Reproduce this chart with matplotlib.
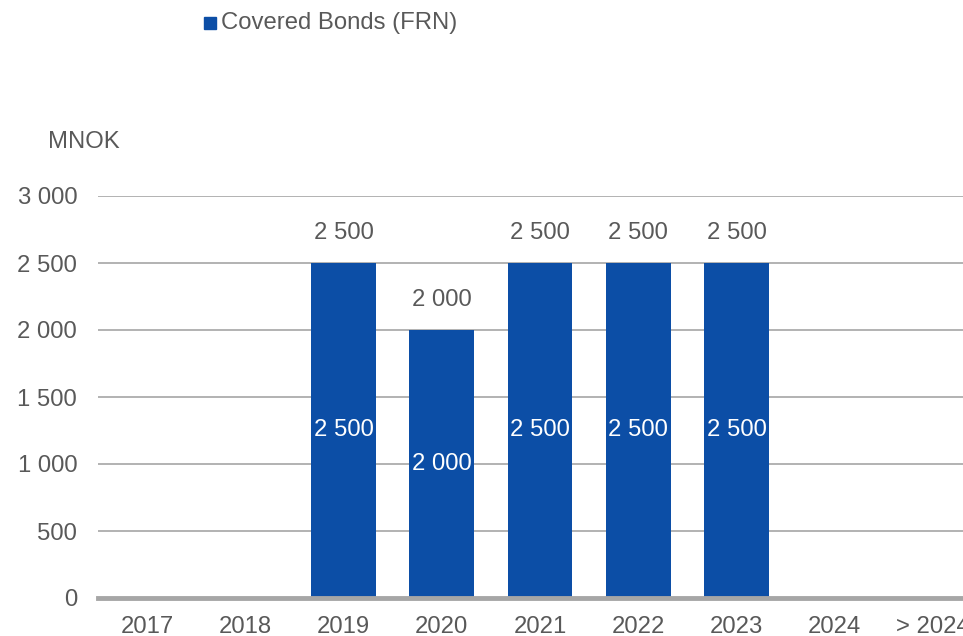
import matplotlib
matplotlib.use("Agg")
import matplotlib.pyplot as plt
import numpy as np

plt.rcParams['font.family'] = ['Liberation Sans', 'DejaVu Sans']

categories = ["2017", "2018", "2019", "2020", "2021", "2022", "2023", "2024", "> 2024"]
values = [0, 0, 2500, 2000, 2500, 2500, 2500, 0, 0]
y_ticks = [0, 500, 1000, 1500, 2000, 2500, 3000]
y_tick_labels = ["0", "500", "1 000", "1 500", "2 000", "2 500", "3 000"]
series_name = "Covered Bonds (FRN)"

bar_color = "#0c4ea6"
text_color = "#595959"
grid_color = "#a6a6a6"
fs = 17.2

W, H = 963, 636
fig = plt.figure(figsize=(W / 100, H / 100), dpi=100)
ax = fig.add_axes([98 / W, 38 / H, 884 / W, 402 / H])

x = np.arange(len(categories))
ax.bar(x, values, width=0.66, color=bar_color, zorder=3)

ax.set_xlim(-0.5, len(categories) - 0.5)
ax.set_ylim(0, 3000)
ax.set_yticks(y_ticks)
ax.set_yticklabels(y_tick_labels)
ax.set_xticks(x)
ax.set_xticklabels(categories)

for s in ax.spines.values():
    s.set_visible(False)
ax.tick_params(axis='both', length=0, labelsize=fs, colors=text_color)
ax.tick_params(axis='y', pad=15)
ax.tick_params(axis='x', pad=13)
ax.yaxis.grid(True, color=grid_color, linewidth=1.2, zorder=0)
ax.axhline(0, color=grid_color, linewidth=3.5, zorder=4, clip_on=False)

def fmt(v):
    return f"{v:,.0f}".replace(",", " ")

for xi, v in zip(x, values):
    if v > 0:
        ax.text(xi, v / 2, fmt(v), ha='center', va='center', color='white',
                fontsize=fs, zorder=5)
        ax.text(xi, v + 140, fmt(v), ha='center', va='bottom', color=text_color,
                fontsize=fs, zorder=5)

fig.text(48 / W, 1 - 142 / H, "MNOK", ha='left', va='center', color=text_color,
         fontsize=fs)

# legend entry
fig.patches.append(matplotlib.patches.Rectangle((204 / W, 1 - 29 / H), 12 / W, 12 / H,
                                                transform=fig.transFigure,
                                                color=bar_color, figure=fig))
fig.text(221 / W, 1 - 23 / H, series_name, ha='left', va='center', color=text_color,
         fontsize=fs)

fig.savefig("out.png", dpi=100)
